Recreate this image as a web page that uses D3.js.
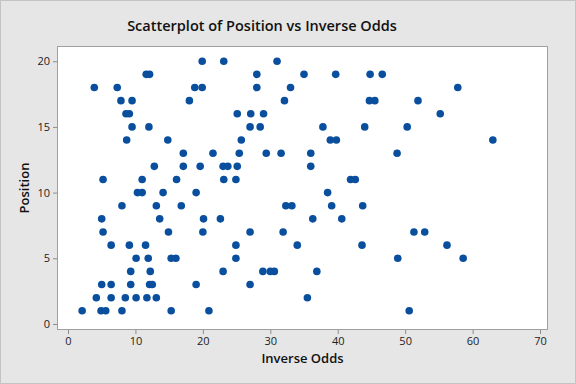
<!DOCTYPE html>
<html>
<head>
<meta charset="utf-8">
<script src="https://cdn.jsdelivr.net/npm/d3@7"></script>
<style>
  body { margin: 0; background: #fff; }
  text { font-family: "Segoe UI", "Open Sans", "Noto Sans", sans-serif; }
</style>
</head>
<body>
<div id="chart"></div>
<script>
// Inverse odds (x) and finishing position (y)
const inverseOdds = [
  19.9, 23.1, 31.0,
  11.6, 12.1, 28.0, 35.0, 39.7, 44.8, 46.6,
  3.9, 7.3, 18.8, 19.9, 28.0, 33.0, 57.8,
  7.85, 9.5, 18.0, 32.1, 44.7, 45.5, 51.9,
  8.6, 9.1, 25.1, 27.1, 29.0, 55.2,
  9.5, 12.0, 27.0, 28.5, 37.8, 44.0, 50.3,
  8.7, 14.8, 25.7, 38.9, 39.8, 63.0,
  17.1, 21.5, 25.4, 29.4, 31.6, 36.0, 48.8,
  12.8, 17.1, 19.6, 23.0, 23.7, 25.1, 36.0,
  5.2, 11.0, 16.1, 23.1, 24.9, 41.9, 42.6,
  10.3, 11.0, 14.1, 19.0, 38.5,
  8.0, 13.1, 16.8, 32.3, 33.2, 39.1, 43.7,
  5.0, 13.6, 20.1, 22.6, 36.3, 40.6,
  5.2, 14.9, 20.0, 27.0, 31.9, 51.3, 52.9,
  6.4, 9.1, 11.5, 24.9, 34.0, 43.6, 56.2,
  10.1, 11.9, 15.3, 16.0, 24.9, 48.9, 58.6,
  9.3, 12.2, 23.0, 28.9, 30.0, 30.6, 36.9,
  5.0, 6.4, 9.3, 12.1, 12.5, 19.0, 27.0,
  4.2, 6.4, 8.5, 10.1, 11.7, 13.1, 35.5,
  2.1, 4.9, 5.6, 8.0, 15.3, 20.9, 50.6
];
const position = [
  20, 20, 20,
  19, 19, 19, 19, 19, 19, 19,
  18, 18, 18, 18, 18, 18, 18,
  17, 17, 17, 17, 17, 17, 17,
  16, 16, 16, 16, 16, 16,
  15, 15, 15, 15, 15, 15, 15,
  14, 14, 14, 14, 14, 14,
  13, 13, 13, 13, 13, 13, 13,
  12, 12, 12, 12, 12, 12, 12,
  11, 11, 11, 11, 11, 11, 11,
  10, 10, 10, 10, 10,
  9, 9, 9, 9, 9, 9, 9,
  8, 8, 8, 8, 8, 8,
  7, 7, 7, 7, 7, 7, 7,
  6, 6, 6, 6, 6, 6, 6,
  5, 5, 5, 5, 5, 5, 5,
  4, 4, 4, 4, 4, 4, 4,
  3, 3, 3, 3, 3, 3, 3,
  2, 2, 2, 2, 2, 2, 2,
  1, 1, 1, 1, 1, 1, 1
];
const xTicks = [0, 10, 20, 30, 40, 50, 60, 70];
const yTicks = [0, 5, 10, 15, 20];

const dataset = inverseOdds.map((v, i) => ({x: v, y: position[i]}));

const w = 576, h = 384;
// plot frame
const plotL = 57, plotT = 46, plotR = 548, plotB = 330;

const svg = d3.select('#chart')
  .append('svg')
  .attr('width', w)
  .attr('height', h);

// gray figure background
svg.append('rect')
  .attr('x', 0.5).attr('y', 0.5)
  .attr('width', w - 1).attr('height', h - 1)
  .attr('fill', '#e6e6e6')
  .attr('stroke', '#c4c4c4');

// white data region
svg.append('rect')
  .attr('x', plotL).attr('y', plotT)
  .attr('width', plotR - plotL).attr('height', plotB - plotT)
  .attr('fill', '#fff');

const xScale = d3.scaleLinear().domain([-1.63, 71.18]).range([plotL, plotR]);
const yScale = d3.scaleLinear().domain([-0.46, 21.16]).range([plotB, plotT]);

const xAxis = d3.axisBottom(xScale).tickValues(xTicks).tickSize(4).tickPadding(3);
svg.append('g')
  .attr('transform', 'translate(0,' + plotB + ')')
  .call(xAxis)
  .call(g => g.select('.domain').remove());

const yAxis = d3.axisLeft(yScale).tickValues(yTicks).tickSize(4).tickPadding(3);
svg.append('g')
  .attr('transform', 'translate(' + plotL + ',0)')
  .call(yAxis)
  .call(g => g.select('.domain').remove());

svg.selectAll('.tick line').attr('stroke', '#8c8c8c');
svg.selectAll('.tick text')
  .attr('fill', '#222')
  .style('font-size', '11px')
  .style('font-family', '"Segoe UI", "Open Sans", sans-serif');

// frame border
svg.append('rect')
  .attr('x', plotL + 0.5).attr('y', plotT + 0.5)
  .attr('width', plotR - plotL - 1).attr('height', plotB - plotT - 1)
  .attr('fill', 'none')
  .attr('stroke', '#a0a0a0');

// points
svg.append('g').selectAll('circle')
  .data(dataset)
  .enter()
  .append('circle')
  .attr('cx', d => xScale(d.x))
  .attr('cy', d => yScale(d.y))
  .attr('r', 3.8)
  .attr('fill', '#0a4f9e');

// title and axis titles
svg.append('text')
  .attr('x', 262).attr('y', 31)
  .attr('text-anchor', 'middle')
  .attr('fill', '#111')
  .style('font-size', '14.5px')
  .style('font-weight', 600)
  .text('Scatterplot of Position vs Inverse Odds');

svg.append('text')
  .attr('x', (plotL + plotR) / 2).attr('y', 363)
  .attr('text-anchor', 'middle')
  .attr('fill', '#111')
  .style('font-size', '13px')
  .style('font-weight', 600)
  .text('Inverse Odds');

svg.append('text')
  .attr('transform', 'translate(29,' + (plotT + plotB) / 2 + ') rotate(-90)')
  .attr('text-anchor', 'middle')
  .attr('fill', '#111')
  .style('font-size', '13px')
  .style('font-weight', 600)
  .text('Position');
</script>
</body>
</html>
